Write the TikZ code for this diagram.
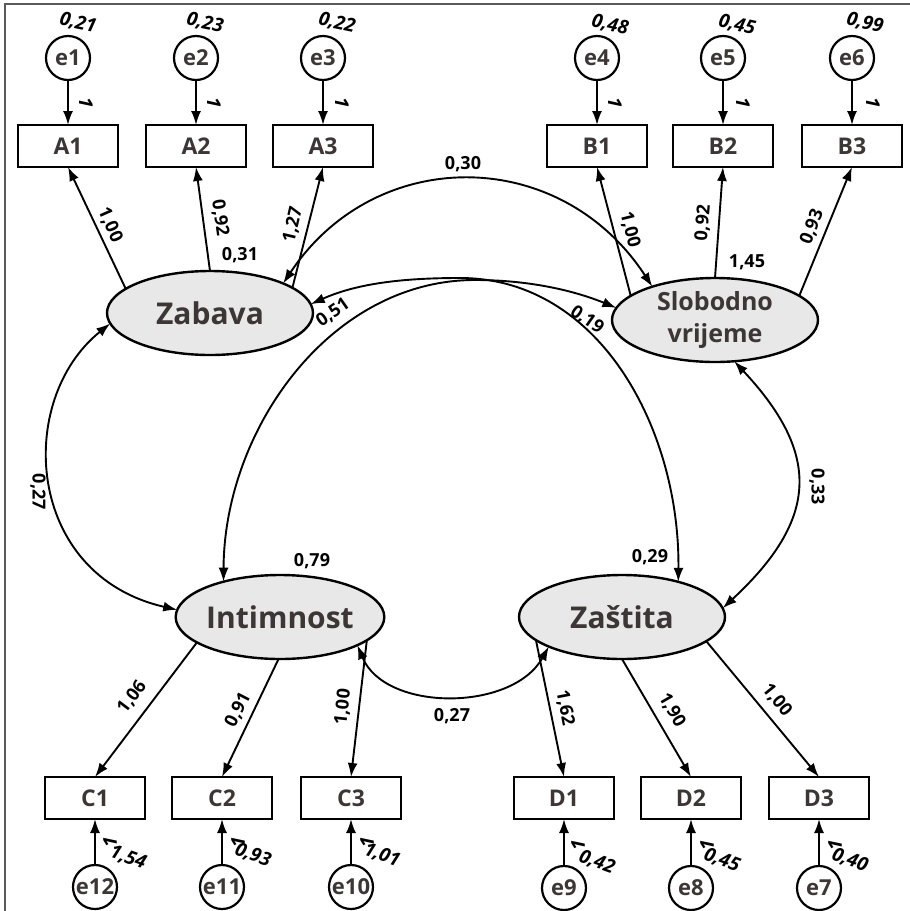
\documentclass[tikz,border=0pt]{standalone}
\usepackage{fontspec}
\setmainfont{Open Sans}
\usetikzlibrary{arrows.meta,shapes.geometric}
\definecolor{inkgrey}{HTML}{3C3634}
\definecolor{latentfill}{HTML}{E8E8E8}
\definecolor{framegrey}{HTML}{5A5A5A}

\begin{document}
\begin{tikzpicture}[x=1pt,y=-1pt,
  every node/.style={inner sep=0pt, outer sep=0pt},
  latent/.style={ellipse, draw, line width=2.4pt, fill=latentfill,
    minimum width=206pt, minimum height=84pt, align=center,
    font=\fontsize{30}{33}\selectfont\bfseries, text=inkgrey},
  manifest/.style={rectangle, draw, line width=2.6pt, minimum width=100pt,
    minimum height=42pt, font=\fontsize{23}{25}\selectfont\bfseries, text=inkgrey},
  errvar/.style={circle, draw, line width=2.2pt, minimum size=44pt,
    font=\fontsize{22}{24}\selectfont\bfseries, text=inkgrey},
  coef/.style={font=\fontsize{18}{20}\selectfont\bfseries},
  varlab/.style={font=\fontsize{19}{21}\selectfont\bfseries\itshape},
  patharrow/.style={-{Latex[length=14pt,width=10pt]}, line width=1.9pt},
  covarrow/.style={{Latex[length=14pt,width=10pt]}-{Latex[length=14pt,width=10pt]}, line width=1.9pt},
]
\useasboundingbox (0,0) rectangle (910,911);

% frame
\draw[framegrey, line width=1.2pt] (5,915) -- (5,4) -- (914,4);

% latent factors
\node[latent] (Zab) at (210,313) {Zabava};
\node[latent, font=\fontsize{25}{32}\selectfont\bfseries] (Slo) at (715,320) {Slobodno\\vrijeme};
\node[latent] (Int) at (280,617) {Intimnost};
\node[latent] (Zas) at (622,617) {Zaštita};

% indicators
\node[manifest] (A1) at (68,146) {A1};
\node[manifest] (A2) at (196,146) {A2};
\node[manifest] (A3) at (323,146) {A3};
\node[manifest] (B1) at (597,146) {B1};
\node[manifest] (B2) at (723,146) {B2};
\node[manifest] (B3) at (852,146) {B3};
\node[manifest] (C1) at (95,798) {C1};
\node[manifest] (C2) at (222,798) {C2};
\node[manifest] (C3) at (351,798) {C3};
\node[manifest] (D1) at (564,798) {D1};
\node[manifest] (D2) at (691,798) {D2};
\node[manifest] (D3) at (819,798) {D3};

% error terms
\node[errvar] (e1) at (68,58) {e1};
\node[errvar] (e2) at (196,58) {e2};
\node[errvar] (e3) at (323,58) {e3};
\node[errvar] (e4) at (597,58) {e4};
\node[errvar] (e5) at (723,58) {e5};
\node[errvar] (e6) at (852,58) {e6};
\node[errvar] (e12) at (95,887) {e12};
\node[errvar] (e11) at (222,887) {e11};
\node[errvar] (e10) at (351,887) {e10};
\node[errvar] (e9) at (564,888) {e9};
\node[errvar] (e8) at (691,888) {e8};
\node[errvar] (e7) at (819,888) {e7};

% error paths
\foreach \e/\m in {e1/A1,e2/A2,e3/A3,e4/B1,e5/B2,e6/B3,e12/C1,e11/C2,e10/C3,e9/D1,e8/D2,e7/D3}
  \draw[patharrow] (\e) -- (\m);

% loadings
\draw[patharrow] (Zab.164) -- (A1.south);
\draw[patharrow] (Zab.90) -- (A2.south);
\draw[patharrow] (Zab.17) -- (A3.south);
\draw[patharrow] (Slo.164) -- (B1.south);
\draw[patharrow] (Slo.90) -- (B2.south);
\draw[patharrow] (Slo.16) -- (B3.south);
\draw[patharrow] (Int.197) -- (C1.north);
\draw[patharrow] (Int.268) -- (C2.north);
\draw[patharrow] (Int.-15) -- (C3.north);
\draw[patharrow] (Zas.195) -- (D1.north);
\draw[patharrow] (Zas.270) -- (D2.north);
\draw[patharrow] (Zas.-16) -- (D3.north);

% covariances
\draw[covarrow] (Zab.22) .. controls (375,145) and (560,145) .. (Slo.152);
\draw[covarrow] (Zab.5) .. controls (360,282) and (410,278) .. (460,278)
  .. controls (600,278) and (680,430) .. (Zas.32);
\draw[covarrow] (Int.148) .. controls (224,430) and (330,280) .. (475,280)
  .. controls (540,280) and (585,295) .. (Slo.173);
\draw[covarrow] (Zab.186) .. controls (15,400) and (25,575) .. (Int.176);
\draw[covarrow] (Slo.-65) .. controls (820,453) and (820,518) .. (Zas.5);
\draw[covarrow] (Int.-20) .. controls (385,712) and (512,712) .. (Zas.202);

% loading estimates
\node[coef, rotate=-66] (l1) at (110,225) {1,00};
\node[coef, rotate=-82] (l2) at (220,218) {0,92};
\node[coef, rotate=77] (l3) at (293,225) {1,27};
\node[coef, rotate=-76] (l4) at (630,230) {1,00};
\node[coef, rotate=85] (l5) at (703,223) {0,92};
\node[coef, rotate=69] (l6) at (812,227) {0,93};
\node[coef, rotate=53] (l7) at (132,697) {1,06};
\node[coef, rotate=63] (l8) at (238,710) {0,91};
\node[coef, rotate=84] (l9) at (343,707) {1,00};
\node[coef, rotate=-79] (l10) at (565,708) {1,62};
\node[coef, rotate=-60] (l11) at (672,710) {1,90};
\node[coef, rotate=-51] (l12) at (777,700) {1,00};

% factor variances
\node[coef] (fv1) at (240,255) {0,31};
\node[coef] (fv2) at (747,262) {1,45};
\node[coef] (fv3) at (312,561) {0,79};
\node[coef] (fv4) at (650,557) {0,29};

% covariance estimates
\node[coef] (k1) at (463,164) {0,30};
\node[coef, rotate=35] (k2) at (333,313) {0,51};
\node[coef, rotate=-35] (k3) at (587,320) {0,19};
\node[coef, rotate=-90] (k4) at (38,492) {0,27};
\node[coef, rotate=-90] (k5) at (817,487) {0,33};
\node[coef] (k6) at (452,716) {0,27};

% fixed error paths
\node[varlab, rotate=-90] (f1) at (86,103) {1};
\node[varlab, rotate=-90] (f2) at (214,103) {1};
\node[varlab, rotate=-90] (f3) at (342,103) {1};
\node[varlab, rotate=-90] (f4) at (615,103) {1};
\node[varlab, rotate=-90] (f5) at (743,103) {1};
\node[varlab, rotate=-90] (f6) at (873,103) {1};
\node[varlab, rotate=90] (f12) at (110,842) {1};
\node[varlab, rotate=90] (f11) at (238,842) {1};
\node[varlab, rotate=90] (f10) at (367,842) {1};
\node[varlab, rotate=90] (f9) at (578,845) {1};
\node[varlab, rotate=90] (f8) at (707,845) {1};
\node[varlab, rotate=90] (f7) at (835,845) {1};

% error variances
\node[varlab, rotate=-12] (v1) at (78,23) {0,21};
\node[varlab, rotate=-12] (v2) at (205,23) {0,23};
\node[varlab, rotate=-12] (v3) at (337,23) {0,22};
\node[varlab, rotate=-12] (v4) at (610,25) {0,48};
\node[varlab, rotate=-12] (v5) at (737,25) {0,45};
\node[varlab, rotate=-12] (v6) at (865,23) {0,99};
\node[varlab, rotate=-20] (v12) at (128,858) {1,54};
\node[varlab, rotate=-20] (v11) at (253,855) {0,93};
\node[varlab, rotate=-20] (v10) at (382,855) {1,01};
\node[varlab, rotate=-20] (v9) at (597,862) {0,42};
\node[varlab, rotate=-20] (v8) at (722,860) {0,45};
\node[varlab, rotate=-20] (v7) at (850,860) {0,40};
\end{tikzpicture}
\end{document}
